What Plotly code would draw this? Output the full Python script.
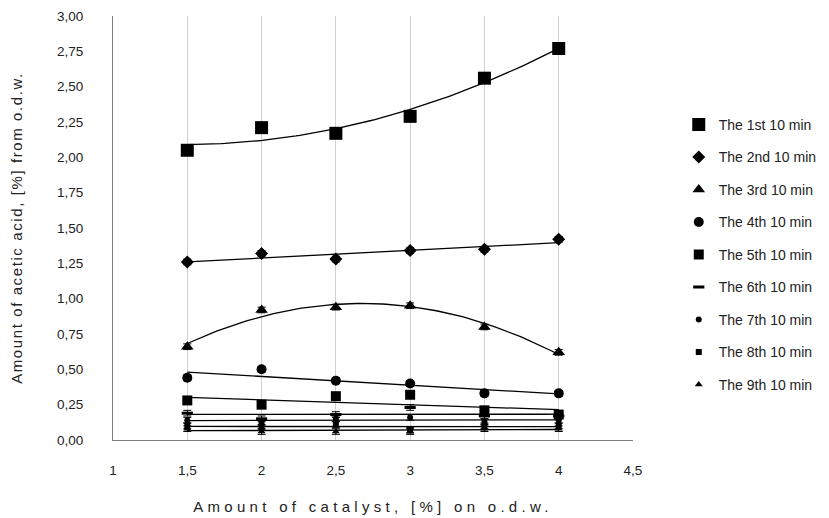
import numpy as np
import plotly.graph_objects as go

catalyst = [1.5, 2, 2.5, 3, 3.5, 4]
series_names = ["The 1st 10 min", "The 2nd 10 min", "The 3rd 10 min", "The 4th 10 min",
                "The 5th 10 min", "The 6th 10 min", "The 7th 10 min", "The 8th 10 min",
                "The 9th 10 min"]
s1 = [2.05, 2.21, 2.17, 2.29, 2.56, 2.77]
s2 = [1.26, 1.32, 1.28, 1.34, 1.35, 1.42]
s3 = [0.66, 0.92, 0.94, 0.95, 0.80, 0.62]
s4 = [0.44, 0.50, 0.42, 0.40, 0.33, 0.33]
s5 = [0.28, 0.25, 0.31, 0.32, 0.21, 0.18]
s6 = [0.19, 0.15, 0.18, 0.23, 0.17, 0.17]
s7 = [0.14, 0.12, 0.15, 0.16, 0.13, 0.14]
s8 = [0.10, 0.09, 0.11, 0.07, 0.10, 0.10]
s9 = [0.08, 0.06, 0.06, 0.06, 0.08, 0.08]
errors = [0.02, 0.02, 0.02, 0.02, 0.02, 0.02]
trend_degree = [2, 1, 2, 1, 1, 1, 1, 1, 1]
x_ticks = [1, 1.5, 2, 2.5, 3, 3.5, 4, 4.5]
x_ticklabels = ["1", "1,5", "2", "2,5", "3", "3,5", "4", "4,5"]
y_ticks = [0, 0.25, 0.5, 0.75, 1.0, 1.25, 1.5, 1.75, 2.0, 2.25, 2.5, 2.75, 3.0]
y_ticklabels = ["0,00", "0,25", "0,50", "0,75", "1,00", "1,25", "1,50", "1,75", "2,00",
                "2,25", "2,50", "2,75", "3,00"]

all_series = [s1, s2, s3, s4, s5, s6, s7, s8, s9]
symbols = ["square", "diamond", "triangle-up", "circle", "square", "line-ew", "circle",
           "square", "triangle-up"]
sizes = [13, 10, 11, 10, 10, 8, 6, 6, 7]

fig = go.Figure()
xs = np.linspace(min(catalyst), max(catalyst), 100)
for i, (name, ys) in enumerate(zip(series_names, all_series)):
    coef = np.polyfit(catalyst, ys, trend_degree[i])
    fig.add_trace(go.Scatter(x=xs, y=np.polyval(coef, xs), mode="lines",
                             line=dict(color="black", width=1.3), showlegend=False,
                             hoverinfo="skip"))
for i, (name, ys) in enumerate(zip(series_names, all_series)):
    sym = symbols[i]
    fig.add_trace(go.Scatter(
        x=catalyst, y=ys, mode="markers", name=name, legendgroup=name,
        marker=dict(symbol=sym, size=sizes[i], color="black",
                    line=dict(color="black", width=3 if sym == "line-ew" else 0)),
        error_y=dict(type="data", array=errors, color="black", thickness=1, width=4)))

xtitle = '<span style="letter-spacing:4.3px">Amount of catalyst, [%] on o.d.w.</span>'
ytitle = '<span style="letter-spacing:1.6px">Amount of acetic acid, [%] from o.d.w.</span>'

fig.update_layout(
    width=829, height=518,
    margin=dict(l=105, r=204, t=8, b=86, autoexpand=False),
    paper_bgcolor="white", plot_bgcolor="white",
    font=dict(family="Liberation Sans, Arial, sans-serif", size=13.5, color="#222"),
    xaxis=dict(range=[1, 4.5], tickvals=x_ticks, ticktext=x_ticklabels,
               showgrid=True, gridcolor="#d0d0d0", gridwidth=1,
               showline=True, linecolor="#7f7f7f", linewidth=1, zeroline=False,
               ticks="", ticklabelstandoff=18, automargin=False,
               title=dict(text=xtitle, standoff=24, font=dict(size=15))),
    yaxis=dict(range=[0, 3], tickvals=y_ticks, ticktext=y_ticklabels,
               showgrid=False, showline=True, linecolor="#7f7f7f", linewidth=1,
               zeroline=False, ticks="", ticklabelstandoff=26, automargin=False,
               title=dict(text=ytitle, standoff=31, font=dict(size=15))),
    legend=dict(x=1.088, y=0.781, xanchor="left", yanchor="top",
                font=dict(size=14), tracegroupgap=11.3, bgcolor="rgba(0,0,0,0)",
                itemwidth=30),
)
fig.write_html("out.html")
